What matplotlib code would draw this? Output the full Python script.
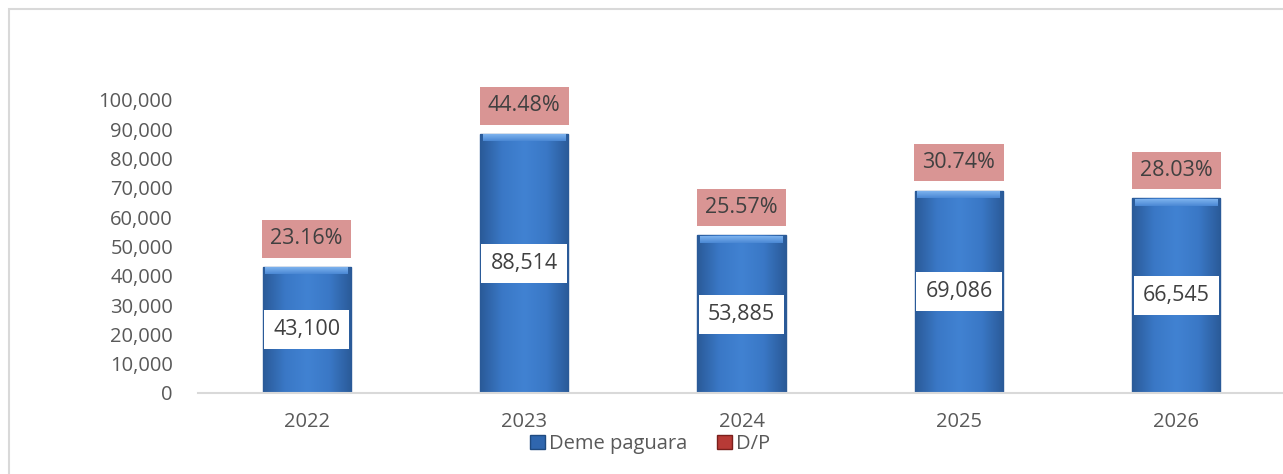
import numpy as np
import matplotlib.pyplot as plt
from matplotlib.patches import Rectangle
from matplotlib.ticker import FuncFormatter
from matplotlib.colors import LinearSegmentedColormap

years = ['2022', '2023', '2024', '2025', '2026']
deme_paguara = [43100, 88514, 53885, 69086, 66545]
dp_ratio = ['23.16%', '44.48%', '25.57%', '30.74%', '28.03%']

plt.rcParams['font.family'] = ['Open Sans', 'DejaVu Sans']
text_col = '#404040'
tick_col = '#595959'

fig = plt.figure(figsize=(12.83, 4.74), dpi=100)
W, H = 1283, 474
ax = fig.add_axes([198 / W, (H - 393) / H, 1087 / W, 293 / H])

x = np.arange(len(years))
width = 0.405
bars = ax.bar(x, deme_paguara, width=width, color='#3B77C4', edgecolor='#2C5A94',
              linewidth=1.0, zorder=2)

# bevelled look: horizontal gradient on each bar, lighter strip on top
cmap = LinearSegmentedColormap.from_list(
    'bev', ['#2A5A98', '#3A78C6', '#4182D2', '#3A78C6', '#2A5A98'])
top_cmap = LinearSegmentedColormap.from_list('top', ['#4A88D4', '#7DB2EE'])
grad = np.linspace(0, 1, 256).reshape(1, -1)
vgrad = np.linspace(0, 1, 64).reshape(-1, 1)
for b in bars:
    x0, w, h = b.get_x(), b.get_width(), b.get_height()
    im = ax.imshow(grad, cmap=cmap, aspect='auto', extent=[x0, x0 + w, 0, h],
                   zorder=2.1)
    im.set_clip_path(b)
    ax.imshow(vgrad, cmap=top_cmap, aspect='auto', origin='lower',
              extent=[x0 + 0.012, x0 + w - 0.012, h - 2600, h - 300], zorder=2.2)

ax.set_xlim(-0.5, len(years) - 0.5)
ax.set_ylim(0, 100000)
ax.set_yticks(np.arange(0, 100001, 10000))
ax.yaxis.set_major_formatter(FuncFormatter(lambda v, p: f'{int(v):,}'))
ax.set_xticks(x)
ax.set_xticklabels(years)
ax.tick_params(axis='y', length=0, pad=18, labelsize=14.5, labelcolor=tick_col)
ax.tick_params(axis='x', length=0, pad=14, labelsize=14.5, labelcolor=tick_col)
for s in ['top', 'right', 'left']:
    ax.spines[s].set_visible(False)
ax.spines['bottom'].set_color('#D9D9D9')
ax.spines['bottom'].set_linewidth(1.5)
ax.spines['bottom'].set_zorder(3)

for xi, v, r in zip(x, deme_paguara, dp_ratio):
    ax.text(xi, v / 2, f'{v:,}', ha='center', va='center', fontsize=15.5,
            color=text_col, zorder=4,
            bbox=dict(boxstyle='square,pad=0.42', facecolor='white', edgecolor='none'))
    ax.annotate(r, (xi, v), xytext=(0, 20), textcoords='offset points',
                ha='center', va='center', fontsize=15.5, color=text_col,
                annotation_clip=False, zorder=4,
                bbox=dict(boxstyle='square,pad=0.38', facecolor='#D99594', edgecolor='none'))

h1 = Rectangle((0, 0), 1, 1, facecolor='#2F66AE', edgecolor='#1F4A80')
h2 = Rectangle((0, 0), 1, 1, facecolor='#B73A36', edgecolor='#7A1F1C')
fig.legend([h1, h2], ['Deme paguara', 'D/P'], loc='center', ncol=2,
           bbox_to_anchor=(650 / W, 1 - 444 / H), frameon=False, fontsize=14.5,
           labelcolor=tick_col, handlelength=0.75, handleheight=0.75,
           handletextpad=0.2, columnspacing=1.5)

# outer chart frame
fig.patches.append(Rectangle((9 / W, -0.1), 1.2, 1 - 9 / H + 0.1,
                             transform=fig.transFigure, fill=False,
                             edgecolor='#D9D9D9', linewidth=1.5))

fig.savefig('out.png', dpi=100)
